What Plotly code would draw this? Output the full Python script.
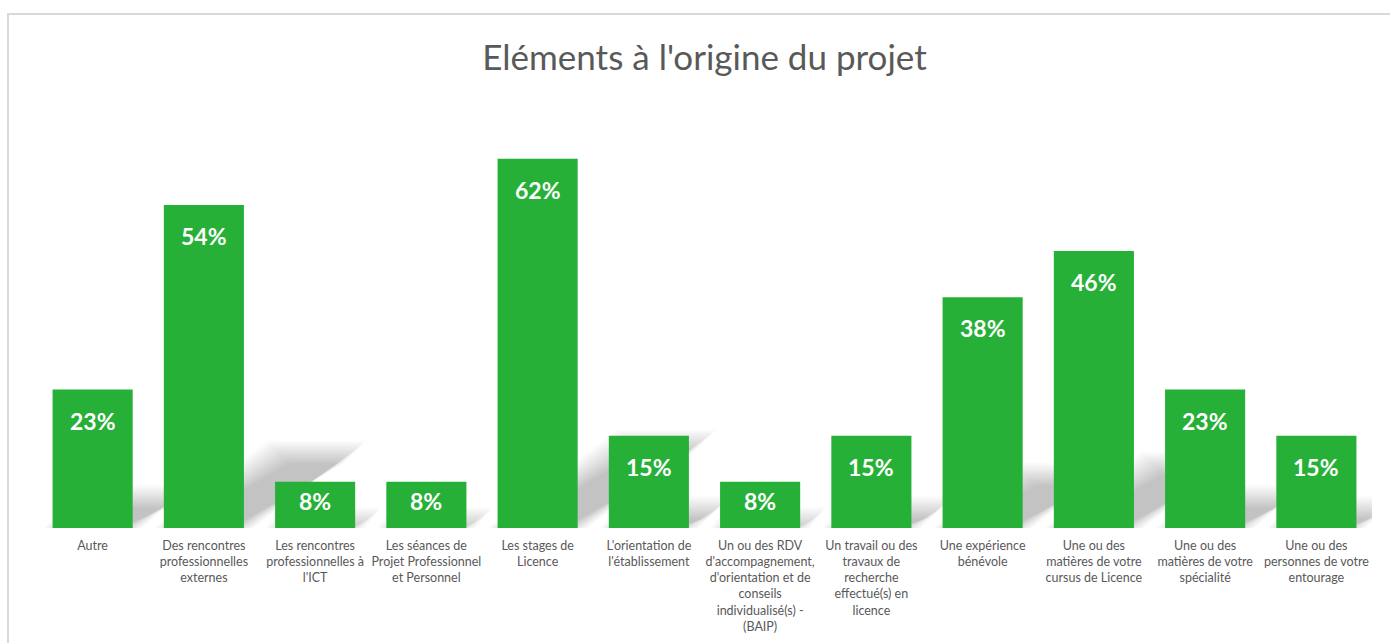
import plotly.graph_objects as go

categories = [
    "Autre",
    "Des rencontres<br>professionnelles<br>externes",
    "Les rencontres<br>professionnelles à<br>l'ICT",
    "Les séances de<br>Projet Professionnel<br>et Personnel",
    "Les stages de<br>Licence",
    "L'orientation de<br>l'établissement",
    "Un ou des RDV<br>d'accompagnement,<br>d'orientation et de<br>conseils<br>individualisé(s) -<br>(BAIP)",
    "Un travail ou des<br>travaux de<br>recherche<br>effectué(s) en<br>licence",
    "Une expérience<br>bénévole",
    "Une ou des<br>matières de votre<br>cursus de Licence",
    "Une ou des<br>matières de votre<br>spécialité",
    "Une ou des<br>personnes de votre<br>entourage",
]
values = [23.08, 53.85, 7.69, 7.69, 61.54, 15.38, 7.69, 15.38, 38.46, 46.15, 23.08, 15.38]
labels = [f"{round(v)}%" for v in values]

W, H = 1390, 643
ML, MR, MT, MB = 37, 18, 108, 115
PW = W - ML - MR
PH = H - MT - MB
YMAX = 70
BAR_W = 0.72
FONT = "Lato"

x = list(range(len(categories)))
px_x = PW / len(categories)   # pixels per category
px_y = PH / YMAX              # pixels per %

fig = go.Figure()

fig.add_trace(go.Bar(
    x=x, y=values,
    width=BAR_W,
    marker=dict(color="#27b038", line=dict(width=0)),
    hoverinfo="skip",
))

# perspective shadows behind the bars (stacked soft layers to fake a blur)
shapes = []
for i, v in zip(x, values):
    h = v * px_y
    dx = 0.35 * h / px_x
    ty = 0.24 * v
    x0, x1 = i - BAR_W / 2, i + BAR_W / 2
    for k in range(-6, 9):
        ins = k * 1.6
        ix = ins / px_x
        iy = ins / px_y
        top = ty - iy
        if top <= 0 or (x1 - x0 - 2 * ix) <= 0:
            continue
        path = (f"M {x0 + ix} 0 L {x1 - ix} 0 "
                f"L {x1 + dx - ix} {top} "
                f"L {x0 + dx + ix} {top} Z")
        shapes.append(dict(type="path", path=path, xref="x", yref="y",
                           fillcolor="rgba(0,0,0,0.017)", line=dict(width=0),
                           layer="below"))

# chart area border
shapes.append(dict(type="rect", xref="paper", yref="paper",
                   x0=(8 - ML) / PW, x1=1.1,
                   y0=-0.5, y1=(PH + MT - 14) / PH,
                   line=dict(color="#d9d9d9", width=2), fillcolor="rgba(0,0,0,0)",
                   layer="below"))

annotations = []
for i, v, t in zip(x, values, labels):
    shift = -15 if v * px_y > 60 else -3
    annotations.append(dict(x=i, y=v, xref="x", yref="y", text=f"<b>{t}</b>",
                            showarrow=False, yanchor="top", yshift=shift,
                            font=dict(family=FONT, size=23, color="white")))

fig.update_layout(
    width=W, height=H,
    margin=dict(l=ML, r=MR, t=MT, b=MB),
    paper_bgcolor="white", plot_bgcolor="white",
    showlegend=False,
    title=dict(text="Eléments à l'origine du projet", x=0.5, xanchor="center",
               xref="paper", y=1 - 58 / H, yanchor="middle", yref="container",
               font=dict(family=FONT, size=35, color="#595959")),
    shapes=shapes,
    annotations=annotations,
)
fig.update_xaxes(range=[-0.5, len(categories) - 0.5], tickvals=x, ticktext=categories,
                 tickfont=dict(family=FONT, size=12.5, color="#595959"),
                 showgrid=False, zeroline=False, showline=False, ticks="",
                 ticklabelstandoff=8, tickangle=0, automargin=False)
fig.update_yaxes(range=[0, YMAX], visible=False, automargin=False)

# drop the default 8px page margin so the figure sits at the window origin
fig.write_html("out.html", config={"displayModeBar": False},
               post_script="document.body.style.margin='0';")
